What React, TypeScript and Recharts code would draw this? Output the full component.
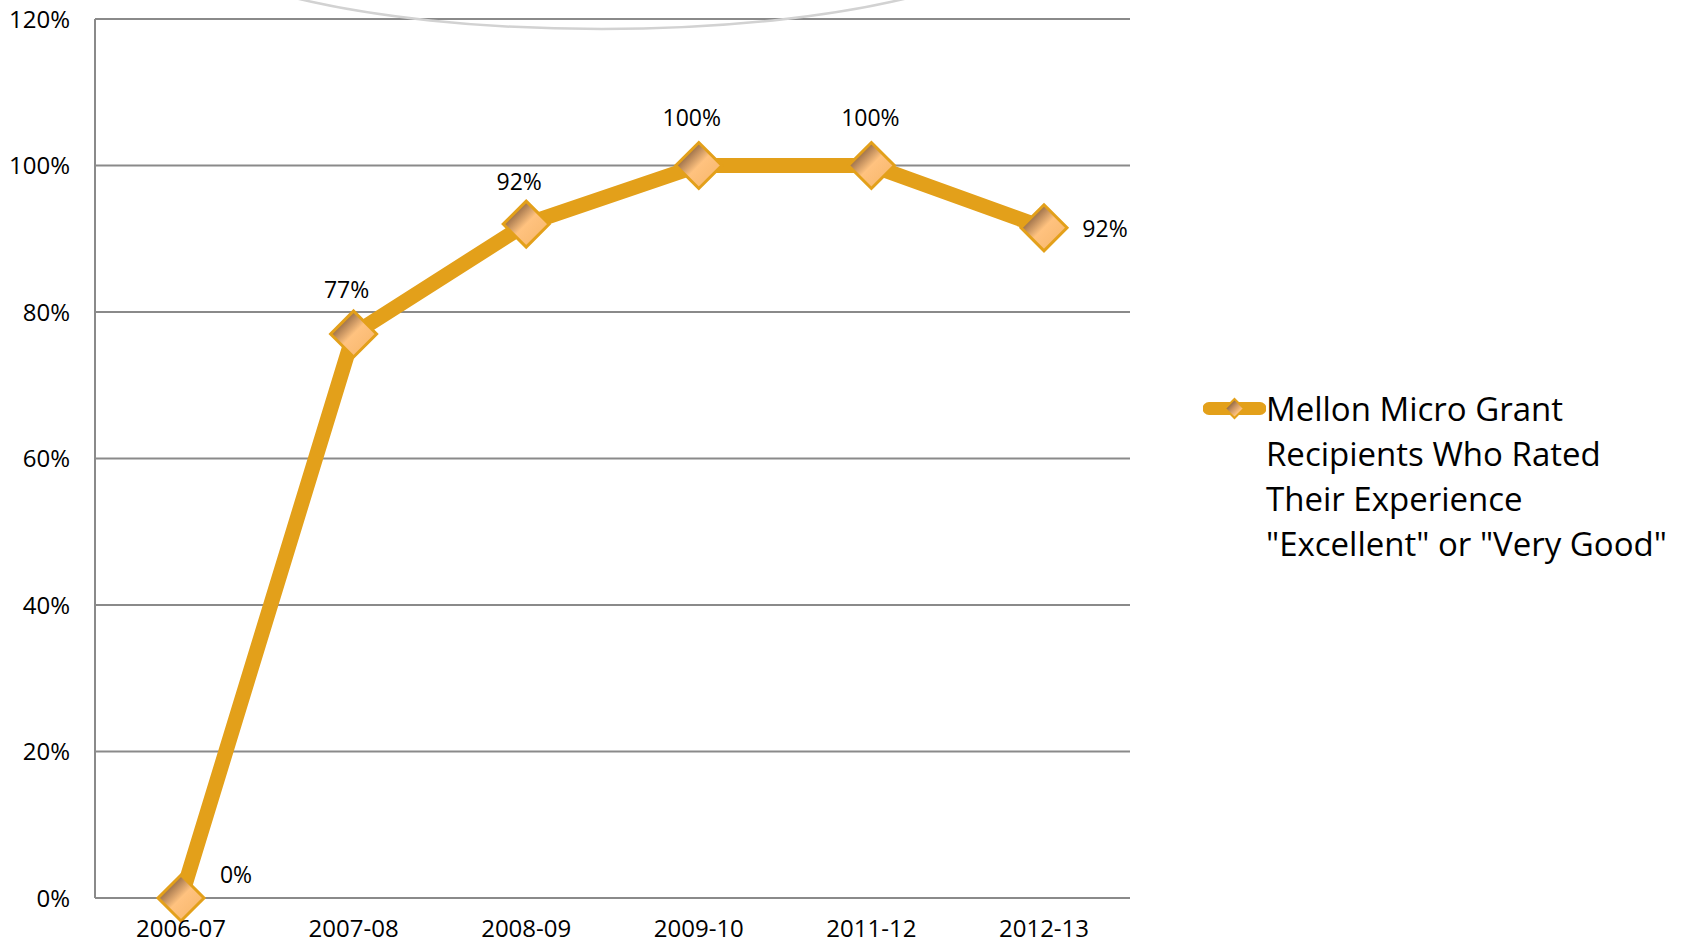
import React from 'react';
import { LineChart, Line, XAxis, YAxis, CartesianGrid, LabelList } from 'recharts';

const categories = ['2006-07', '2007-08', '2008-09', '2009-10', '2011-12', '2012-13'];
const values = [0, 77, 92, 100, 100, 91.5];
const yTicks = [0, 20, 40, 60, 80, 100, 120];
const seriesName = 'Mellon Micro Grant Recipients Who Rated Their Experience "Excellent" or "Very Good"';
const legendLines = ['Mellon Micro Grant', 'Recipients Who Rated', 'Their Experience', '"Excellent" or "Very Good"'];

const data = categories.map((c, i) => ({ cat: c, value: values[i] }));

const LINE = '#E3A01A';
const FONT = '"Open Sans", "Noto Sans", sans-serif';

const Diamond = (props: any) => {
  const { cx, cy, index } = props;
  if (cx == null || cy == null) return null;
  const r = 23;
  return (
    <polygon
      key={`d${index}`}
      points={`${cx},${cy - r} ${cx + r},${cy} ${cx},${cy + r} ${cx - r},${cy}`}
      fill="url(#diamondGrad)"
      stroke={LINE}
      strokeWidth={3}
    />
  );
};

const labelOffsets = [
  { dx: 55, dy: -24 },
  { dx: -7, dy: -45 },
  { dx: -7, dy: -43 },
  { dx: -7, dy: -49 },
  { dx: -1, dy: -49 },
  { dx: 61, dy: 0 },
];

const DataLabel = (props: any) => {
  const { x, y, value, index } = props;
  const o = labelOffsets[index] || { dx: 0, dy: -45 };
  return (
    <text
      x={x + o.dx}
      y={y + o.dy}
      textAnchor="middle"
      dominantBaseline="central"
      fontFamily={FONT}
      fontSize={23}
      fill="#000"
    >
      {`${Math.round(value)}%`}
    </text>
  );
};

const LegendBox = () => (
  <div
    title={seriesName}
    style={{
      position: 'absolute',
      left: 1203,
      top: 386,
      display: 'flex',
      alignItems: 'flex-start',
      fontFamily: FONT,
      fontSize: 33,
      lineHeight: '45px',
      color: '#000',
    }}
  >
    <svg width={63} height={45} style={{ flex: 'none' }}>
      <defs>
        <linearGradient id="legGrad" x1="0" y1="0" x2="1" y2="1">
          <stop offset="0%" stopColor="#3e2e20" />
          <stop offset="45%" stopColor="#c89260" />
          <stop offset="70%" stopColor="#ffc27f" />
          <stop offset="100%" stopColor="#f3b266" />
        </linearGradient>
      </defs>
      <line x1={6} y1={22.5} x2={57} y2={22.5} stroke={LINE} strokeWidth={13} strokeLinecap="round" />
      <polygon points="31.5,13 41,22.5 31.5,32 22,22.5" fill="url(#legGrad)" stroke={LINE} strokeWidth={2} />
    </svg>
    <div style={{ whiteSpace: 'nowrap' }}>
      {legendLines.map((l, i) => (
        <div key={i}>{l}</div>
      ))}
    </div>
  </div>
);

export default function App() {
  return (
    <div style={{ position: 'absolute', left: 0, top: 0, width: 1688, height: 945, background: '#fff', overflow: 'hidden' }}>
      <LineChart width={1688} height={945} data={data} margin={{ top: 19, right: 558, bottom: 0, left: 0 }}>
        <defs>
          <linearGradient id="diamondGrad" x1="0" y1="0" x2="1" y2="1">
            <stop offset="0%" stopColor="#3e2e20" />
            <stop offset="28%" stopColor="#a87a50" />
            <stop offset="50%" stopColor="#ffc27f" />
            <stop offset="100%" stopColor="#f5b467" />
          </linearGradient>
        </defs>
        <CartesianGrid vertical={false} stroke="#8a8a8a" strokeWidth={2} />
        <XAxis
          dataKey="cat"
          padding={{ left: 86, right: 86 }}
          stroke="#8a8a8a"
          strokeWidth={2}
          tickLine={false}
          tickSize={0}
          tickMargin={22}
          height={47}
          interval={0}
          tick={{ fontFamily: FONT, fontSize: 24, fill: '#000' }}
        />
        <YAxis
          domain={[0, 120]}
          ticks={yTicks}
          width={95}
          stroke="#8a8a8a"
          strokeWidth={2}
          tickLine={false}
          tickSize={0}
          tickMargin={25}
          tickFormatter={(v: number) => `${v}%`}
          tick={{ fontFamily: FONT, fontSize: 24, fill: '#000' }}
        />
        <Line
          type="linear"
          dataKey="value"
          name={seriesName}
          stroke={LINE}
          strokeWidth={15}
          dot={<Diamond />}
          activeDot={false}
          isAnimationActive={false}
        >
          <LabelList dataKey="value" content={<DataLabel />} />
        </Line>
      </LineChart>
      <LegendBox />
      <svg width={1688} height={945} style={{ position: 'absolute', left: 0, top: 0, pointerEvents: 'none' }}>
        <path d="M 295 -2 A 440 110 0 0 0 908 -2" fill="none" stroke="#d2d2d2" strokeWidth={2.5} />
      </svg>
    </div>
  );
}
